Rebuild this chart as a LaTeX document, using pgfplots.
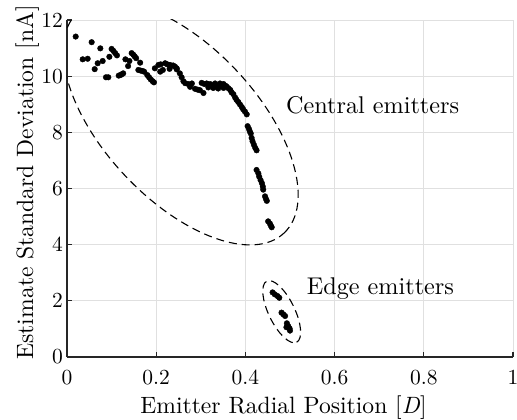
\documentclass[border=0pt]{standalone}
\usepackage{fontspec}
\setmainfont{lmroman10}[Extension=.otf, UprightFont=*-regular, ItalicFont=*-italic, BoldFont=*-bold]
\usepackage{pgfplots}
\pgfplotsset{compat=1.18}
\pgfplotstableread{
x y
0.0195 11.41
0.0553 11.21
0.0747 10.99
0.0352 10.60
0.0463 10.62
0.0621 10.25
0.0688 10.46
0.0800 10.54
0.0950 10.69
0.1000 10.97
0.1040 10.90
0.1080 10.82
0.1120 10.74
0.0874 9.96
0.0926 9.96
0.1160 10.02
0.1200 10.04
0.1230 10.07
0.1260 10.10
0.1310 10.60
0.1400 10.54
0.1370 10.36
0.1450 10.82
0.1490 10.76
0.1520 10.70
0.1550 10.64
0.1640 10.48
0.1600 10.22
0.1650 10.20
0.1700 10.18
0.1730 10.16
0.1800 10.04
0.1840 9.96
0.1880 9.88
0.1920 9.82
0.1950 9.78
0.1970 10.28
0.2050 10.40
0.2100 10.42
0.2200 10.46
0.2250 10.42
0.2310 10.40
0.2380 10.38
0.2420 10.34
0.2090 10.16
0.2150 10.22
0.2300 10.26
0.2460 10.24
0.2460 10.28
0.2530 10.10
0.2570 9.96
0.2610 9.82
0.2650 9.75
0.2720 9.72
0.2800 9.74
0.2760 9.62
0.2870 9.55
0.2930 9.52
0.2980 9.50
0.3060 9.40
0.3020 9.76
0.3080 9.72
0.3130 9.74
0.3170 9.60
0.3210 9.72
0.3250 9.66
0.3280 9.58
0.3320 9.74
0.3360 9.64
0.3390 9.56
0.3430 9.74
0.3470 9.66
0.3510 9.58
0.3510 9.72
0.3550 9.66
0.3580 9.63
0.3620 9.57
0.3660 9.51
0.3690 9.42
0.3730 9.36
0.3770 9.24
0.3800 9.16
0.3840 9.08
0.3880 8.99
0.3920 8.90
0.3950 8.82
0.3990 8.74
0.4030 8.64
0.4050 8.22
0.4080 8.12
0.4100 8.03
0.4120 7.96
0.4140 7.80
0.4160 7.68
0.4190 7.56
0.4220 7.45
0.4250 7.36
0.4250 6.66
0.4290 6.54
0.4310 6.42
0.4340 6.30
0.4370 6.19
0.4390 6.07
0.4400 5.96
0.4440 5.72
0.4460 5.63
0.4480 5.56
0.4510 4.83
0.4550 4.75
0.4570 4.68
0.4590 4.62
0.4610 2.30
0.4660 2.23
0.4720 2.17
0.4760 2.11
0.4810 1.58
0.4850 1.52
0.4890 1.46
0.4930 1.20
0.4960 1.10
0.4990 1.02
0.5000 0.94
0.4920 1.06
}\dots
\begin{document}
\begin{tikzpicture}
\useasboundingbox (-67pt,-63pt) rectangle (450pt,357pt);
\begin{axis}[
  scale only axis, width=446pt, height=337pt,
  xmin=0, xmax=1, ymin=0, ymax=12,
  xtick={0,0.2,0.4,0.6,0.8,1}, ytick={0,2,4,6,8,10,12},
  /pgf/number format/assume math mode=true,
  axis x line*=bottom, axis y line*=left,
  axis line style={-, line width=1.1pt, color=black!85},
  grid=major,
  major grid style={line width=0.8pt, color=black!12},
  tick align=inside, major tick length=5pt,
  tick style={line width=1.1pt, color=black!85},
  tick label style={font=\fontsize{21.5}{26}\selectfont, inner sep=0pt},
  xticklabel style={anchor=north, yshift=-13pt},
  yticklabel style={anchor=east, xshift=-4pt},
  label style={font=\fontsize{23.6}{28}\selectfont},
  xlabel={Emitter Radial Position [\textit{D}]},
  ylabel={Estimate Standard Deviation [nA]},
  xlabel style={at={(axis description cs:0.4854,-0.1662)}, anchor=base},
  ylabel style={at={(axis description cs:-0.0762,0.518)}, anchor=base},
]
\addplot[only marks, mark=*, mark size=2.8pt, black] table {\dots};
\draw[black, line width=1.1pt, dash pattern=on 8pt off 5pt, rotate around={-46.8:(axis cs:0.2549,8.333)}] (axis cs:0.2549,8.333) ellipse (151pt and 76.6pt);
\draw[black, line width=1.1pt, dash pattern=on 8pt off 5pt, rotate around={-64:(axis cs:0.4814,1.613)}] (axis cs:0.4814,1.613) ellipse (34pt and 13pt);
\node[anchor=base west, inner sep=0pt, font=\fontsize{24.2}{29}\selectfont] at (axis cs:0.4908,8.686) {Central emitters};
\node[anchor=base west, inner sep=0pt, font=\fontsize{24.2}{29}\selectfont] at (axis cs:0.5374,2.21) {Edge emitters};
\end{axis}
\end{tikzpicture}
\end{document}
